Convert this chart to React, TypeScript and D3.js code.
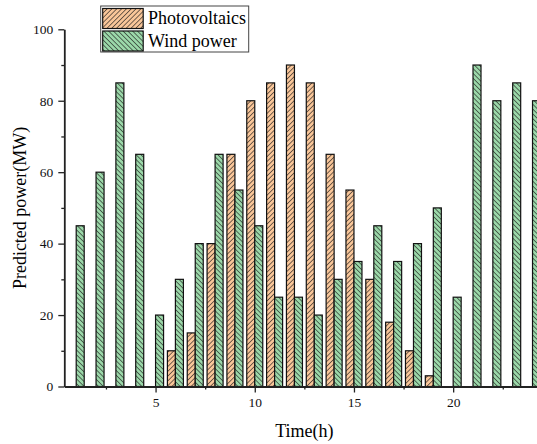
import React, { useRef, useEffect } from 'react';
import * as d3 from 'd3';

const hours = [1, 2, 3, 4, 5, 6, 7, 8, 9, 10, 11, 12, 13, 14, 15, 16, 17, 18, 19, 20, 21, 22, 23, 24];
const photovoltaics = [0, 0, 0, 0, 0, 10, 15, 40, 65, 80, 85, 90, 85, 65, 55, 30, 18, 10, 3, 0, 0, 0, 0, 0];
const windPower = [45, 60, 85, 65, 20, 30, 40, 65, 55, 45, 25, 25, 20, 30, 35, 45, 35, 40, 50, 25, 90, 80, 85, 80];
const yTicks = [0, 20, 40, 60, 80, 100];
const yMinor = [10, 30, 50, 70, 90];
const xTicks = [5, 10, 15, 20];
const xMinor = [2.5, 7.5, 12.5, 17.5, 22.5];

const W = 537;
const H = 444;
const FONT = '"Liberation Serif", "Times New Roman", serif';

const App = () => {
  const svgRef = useRef<SVGSVGElement | null>(null);

  useEffect(() => {
    const svg = d3.select(svgRef.current);
    svg.selectAll('*').remove();
    svg.attr('font-family', FONT);

    const left = 64.3;
    const top = 29.3;
    const bottom = 386.5;
    const unit = 19.84;

    const x = d3.scaleLinear().domain([0.4, 24.6]).range([left, left + 24.2 * unit]);
    const y = d3.scaleLinear().domain([0, 100]).range([bottom, top]);
    const barW = 8;

    // Hatch patterns
    const defs = svg.append('defs');
    const mkPattern = (id: string, fill: string, dir: 1 | -1) => {
      const p = defs.append('pattern')
        .attr('id', id)
        .attr('patternUnits', 'userSpaceOnUse')
        .attr('width', 3.4)
        .attr('height', 3.4)
        .attr('patternTransform', `rotate(${dir * 45})`);
      p.append('rect').attr('width', 3.4).attr('height', 3.4).attr('fill', fill);
      p.append('line')
        .attr('x1', 0).attr('y1', 0).attr('x2', 0).attr('y2', 3.4)
        .attr('stroke', '#1a1a1a').attr('stroke-width', 1.2);
    };
    mkPattern('pv', '#f9c699', 1);
    mkPattern('wind', '#9bd8a9', -1);

    const g = svg.append('g');

    // Photovoltaics bars (left of hour)
    g.selectAll('.pv')
      .data(hours.map((h, i) => ({ h, v: photovoltaics[i] })).filter(d => d.v > 0))
      .enter()
      .append('rect')
      .attr('class', 'pv')
      .attr('x', d => x(d.h) - barW)
      .attr('y', d => y(d.v))
      .attr('width', barW)
      .attr('height', d => y(0) - y(d.v))
      .attr('fill', 'url(#pv)')
      .attr('stroke', '#111')
      .attr('stroke-width', 1.2);

    // Wind power bars (right of hour)
    g.selectAll('.wind')
      .data(hours.map((h, i) => ({ h, v: windPower[i] })).filter(d => d.v > 0))
      .enter()
      .append('rect')
      .attr('class', 'wind')
      .attr('x', d => x(d.h))
      .attr('y', d => y(d.v))
      .attr('width', barW)
      .attr('height', d => y(0) - y(d.v))
      .attr('fill', 'url(#wind)')
      .attr('stroke', '#111')
      .attr('stroke-width', 1.2);

    // Y axis
    const yAxis = svg.append('g')
      .attr('transform', `translate(${left},0)`)
      .call(d3.axisLeft(y).tickValues(yTicks).tickSize(6).tickSizeOuter(0).tickPadding(5));
    svg.append('g')
      .attr('transform', `translate(${left},0)`)
      .call(d3.axisLeft(y).tickValues(yMinor).tickSize(3).tickSizeOuter(0).tickFormat(() => ''))
      .select('.domain').remove();

    // X axis
    const xAxis = svg.append('g')
      .attr('transform', `translate(0,${bottom})`)
      .call(d3.axisBottom(x).tickValues(xTicks).tickSize(6).tickSizeOuter(0).tickPadding(5));
    svg.append('g')
      .attr('transform', `translate(0,${bottom})`)
      .call(d3.axisBottom(x).tickValues(xMinor).tickSize(3).tickSizeOuter(0).tickFormat(() => ''))
      .select('.domain').remove();

    [yAxis, xAxis].forEach(a => {
      a.attr('font-family', FONT).attr('font-size', 13.5);
      a.select('.domain').attr('stroke', '#222').attr('stroke-width', 1.8);
      a.selectAll('.tick text').attr('fill', '#111');
    });
    svg.selectAll('.tick line').attr('stroke', '#222').attr('stroke-width', 1.3);

    // Axis titles
    svg.append('text')
      .attr('x', (left + x(24.6)) / 2)
      .attr('y', 437)
      .attr('text-anchor', 'middle')
      .attr('font-size', 18)
      .text('Time(h)');

    svg.append('text')
      .attr('transform', `translate(26,${(top + bottom) / 2}) rotate(-90)`)
      .attr('text-anchor', 'middle')
      .attr('font-size', 18)
      .text('Predicted power(MW)');

    // Legend
    const legend = svg.append('g');
    legend.append('rect')
      .attr('x', 100.7).attr('y', 6)
      .attr('width', 148).attr('height', 46)
      .attr('fill', 'white')
      .attr('stroke', '#444')
      .attr('stroke-width', 1);
    const items = [
      { label: 'Photovoltaics', fill: 'url(#pv)' },
      { label: 'Wind power', fill: 'url(#wind)' },
    ];
    items.forEach((it, i) => {
      const yy = 8.5 + i * 22.5;
      legend.append('rect')
        .attr('x', 102.7).attr('y', yy)
        .attr('width', 40.5).attr('height', 20)
        .attr('fill', it.fill)
        .attr('stroke', '#111')
        .attr('stroke-width', 1.2);
      legend.append('text')
        .attr('x', 148)
        .attr('y', yy + 15.5)
        .attr('font-size', 18)
        .text(it.label);
    });

    return () => {
      svg.selectAll('*').remove();
    };
  }, []);

  return (
    <svg
      ref={svgRef}
      width={W}
      height={H}
      style={{ position: 'fixed', left: 0, top: 0, background: 'white', display: 'block' }}
    />
  );
};

export default App;
